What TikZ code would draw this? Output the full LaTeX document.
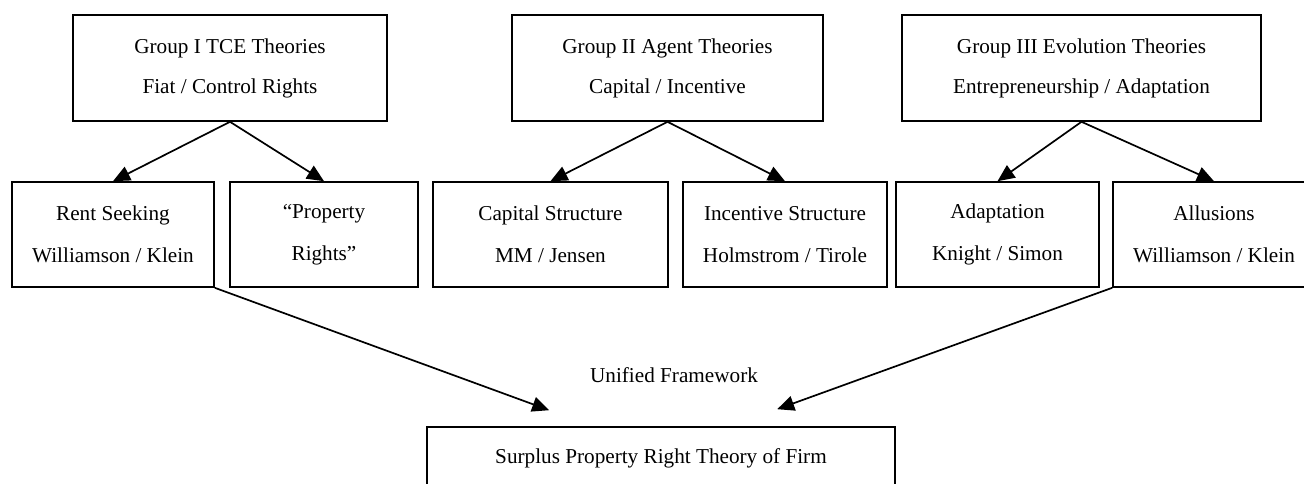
\documentclass[tikz,border=0pt]{standalone}
\usepackage{fontspec}
\setmainfont{Liberation Serif}
\usetikzlibrary{arrows.meta}
\begin{document}
\begin{tikzpicture}[x=1pt,y=-1pt,
  box/.style={draw, line width=1.6pt, fill=white, align=center, inner sep=0pt,
    font=\fontsize{21.2}{40}\selectfont},
  topbox/.style={box, minimum height=106pt},
  midbox/.style={box, minimum height=105pt, font=\fontsize{21.2}{42}\selectfont},
  conn/.style={line width=1.7pt, -{Triangle[length=17pt,width=15pt]}},
  lbl/.style={font=\fontsize{21.2}{25}\selectfont, inner sep=0pt}]
\useasboundingbox (0,0) rectangle (1304,484);
\clip (0,0) rectangle (1304,484);
% top group boxes
\node[topbox, minimum width=314pt] (g1) at (230,68) {Group I TCE Theories\\Fiat / Control Rights};
\node[topbox, minimum width=311pt] (g2) at (667.5,68) {Group II Agent Theories\\Capital / Incentive};
\node[topbox, minimum width=359pt] (g3) at (1081.5,68) {Group III Evolution Theories\\Entrepreneurship / Adaptation};
% middle boxes
\node[midbox, minimum width=202pt] (rent) at (113,234.5) {Rent Seeking\\Williamson / Klein};
\node[midbox, minimum width=188pt] (prop) at (324,234.5) {“Property\\Rights”};
\node[midbox, minimum width=235pt] (cap) at (550.5,234.5) {Capital Structure\\MM / Jensen};
\node[midbox, minimum width=204pt] (inc) at (785,234.5) {Incentive Structure\\Holmstrom / Tirole};
\node[midbox, minimum width=203pt] (adapt) at (997.5,234.5) {Adaptation\\Knight / Simon};
\node[midbox, minimum width=202pt] (allus) at (1214,234.5) {Allusions\\Williamson / Klein};
% bottom
\node[box, minimum width=468pt, minimum height=62pt] (sp) at (661,458) {Surplus Property Right Theory of Firm};
\node[lbl] (uf) at (674,375) {Unified Framework};
\coordinate (t1) at ([xshift=123pt,yshift=16pt]sp.north west);
\coordinate (t2) at ([xshift=351pt,yshift=17pt]sp.north west);
% connectors
\draw[conn] (g1.south) -- (rent.north);
\draw[conn] (g1.south) -- (prop.north);
\draw[conn] (g2.south) -- (cap.north);
\draw[conn] (g2.south) -- (inc.north);
\draw[conn] (g3.south) -- (adapt.north);
\draw[conn] (g3.south) -- (allus.north);
\draw[conn] (rent.south east) -- (t1);
\draw[conn] (allus.south west) -- (t2);
\end{tikzpicture}
\end{document}
